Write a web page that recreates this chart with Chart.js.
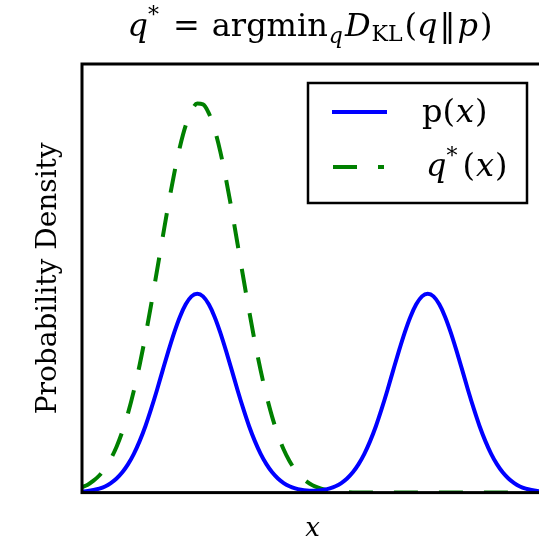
<!DOCTYPE html>
<html>
<head>
<meta charset="utf-8">
<script src="https://cdn.jsdelivr.net/npm/chart.js@4/dist/chart.umd.min.js"></script>
<style>
html, body { margin: 0; padding: 0; overflow: hidden; background: #fff; }
#wrap { width: 539px; height: 541px; overflow: hidden; }
</style>
</head>
<body>
<div id="wrap"><canvas id="myChart" width="625" height="541"></canvas></div>
<script>
// x positions (no ticks are shown on the axis)
var xValues = [-4.0, -3.9, -3.8, -3.7, -3.6, -3.5, -3.4, -3.3, -3.2, -3.1,
    -3.0, -2.9, -2.8, -2.7, -2.6, -2.5, -2.4, -2.3, -2.2, -2.1,
    -2.0, -1.9, -1.8, -1.7, -1.6, -1.5, -1.4, -1.3, -1.2, -1.1,
    -1.0, -0.9, -0.8, -0.7, -0.6, -0.5, -0.4, -0.3, -0.2, -0.1,
    0.0, 0.1, 0.2, 0.3, 0.4, 0.5, 0.6, 0.7, 0.8, 0.9,
    1.0, 1.1, 1.2, 1.3, 1.4, 1.5, 1.6, 1.7, 1.8, 1.9,
    2.0, 2.1, 2.2, 2.3, 2.4, 2.5, 2.6, 2.7, 2.8, 2.9,
    3.0, 3.1, 3.2, 3.3, 3.4, 3.5, 3.6, 3.7, 3.8, 3.9, 4.0];

// p(x): two bumps of equal height
var pValues = [0.005, 0.008, 0.013, 0.020, 0.031, 0.048, 0.071, 0.102, 0.143, 0.195,
    0.259, 0.334, 0.421, 0.515, 0.615, 0.713, 0.805, 0.885, 0.947, 0.987,
    1.000, 0.987, 0.947, 0.885, 0.805, 0.713, 0.615, 0.515, 0.421, 0.334,
    0.259, 0.195, 0.143, 0.102, 0.071, 0.048, 0.032, 0.021, 0.014, 0.010,
    0.009, 0.010, 0.014, 0.021, 0.032, 0.048, 0.071, 0.102, 0.143, 0.195,
    0.259, 0.334, 0.421, 0.515, 0.615, 0.713, 0.805, 0.885, 0.947, 0.987,
    1.000, 0.987, 0.947, 0.885, 0.805, 0.713, 0.615, 0.515, 0.421, 0.334,
    0.259, 0.195, 0.143, 0.102, 0.071, 0.048, 0.031, 0.020, 0.013, 0.008, 0.005];

// q*(x): single bump sitting on the left mode
var qValues = [0.027, 0.040, 0.060, 0.086, 0.122, 0.170, 0.231, 0.307, 0.401, 0.513,
    0.642, 0.787, 0.946, 1.114, 1.284, 1.451, 1.605, 1.740, 1.847, 1.921,
    1.957, 1.953, 1.909, 1.828, 1.715, 1.575, 1.418, 1.250, 1.080, 0.914,
    0.757, 0.615, 0.489, 0.381, 0.291, 0.217, 0.159, 0.114, 0.080, 0.055,
    0.037, 0.025, 0.016, 0.010, 0.006, 0.004, 0.002, 0.001, 0.001, 0,
    0, 0, 0, 0, 0, 0, 0, 0, 0, 0,
    0, 0, 0, 0, 0, 0, 0, 0, 0, 0,
    0, 0, 0, 0, 0, 0, 0, 0, 0, 0, 0];

var seriesNames = ['p(x)', 'q*(x)'];

var SERIF = "'DejaVu Serif', 'Liberation Serif', serif";

function pts(ys) {
    return xValues.map(function (x, i) { return { x: x, y: ys[i] }; });
}

// draws a row of text pieces (roman / italic / sub / sup)
function drawPieces(ctx, pieces, x, y, center) {
    var total = 0;
    pieces.forEach(function (p) {
        ctx.font = (p.i ? 'italic ' : '') + p.s + 'px ' + SERIF;
        p.w = ctx.measureText(p.t).width;
        total += p.w + (p.gap || 0);
    });
    var cx = center ? x - total / 2 : x;
    ctx.fillStyle = '#000';
    ctx.textBaseline = 'alphabetic';
    ctx.textAlign = 'left';
    pieces.forEach(function (p) {
        ctx.font = (p.i ? 'italic ' : '') + p.s + 'px ' + SERIF;
        ctx.fillText(p.t, cx, y + (p.dy || 0));
        cx += p.w + (p.gap || 0);
    });
}

var framePlugin = {
    id: 'frame',
    afterDatasetsDraw: function (chart) {
        var a = chart.chartArea, ctx = chart.ctx;
        ctx.save();
        ctx.strokeStyle = '#000';
        ctx.lineWidth = 3;
        ctx.strokeRect(a.left, a.top, a.right - a.left, a.bottom - a.top);
        ctx.restore();
    }
};

var mathTitle = {
    id: 'mathTitle',
    afterDraw: function (chart) {
        var ctx = chart.ctx;
        ctx.save();
        drawPieces(ctx, [
            { t: 'q', i: 1, s: 32 },
            { t: '*', s: 22, dy: -14, gap: 14 },
            { t: '=', s: 32, gap: 12 },
            { t: 'argmin', s: 32, gap: 1 },
            { t: 'q', i: 1, s: 22, dy: 7, gap: 2 },
            { t: 'D', i: 1, s: 32, gap: 1 },
            { t: 'KL', s: 22, dy: 5, gap: 2 },
            { t: '(', s: 32 },
            { t: 'q', i: 1, s: 32, gap: 2 },
            { t: '\u2016', s: 32, gap: 2 },
            { t: 'p', i: 1, s: 32, gap: 2 },
            { t: ')', s: 32 }
        ], 310, 36, true);
        ctx.restore();
    }
};

var boxLegend = {
    id: 'boxLegend',
    afterDraw: function (chart) {
        var ctx = chart.ctx;
        var ds = chart.data.datasets;
        ctx.save();
        ctx.fillStyle = '#fff';
        ctx.fillRect(308, 83, 219, 120);
        ctx.strokeStyle = '#000';
        ctx.lineWidth = 2.5;
        ctx.strokeRect(308, 83, 219, 120);

        ctx.lineWidth = 4;
        ctx.strokeStyle = ds[0].borderColor;
        ctx.beginPath();
        ctx.moveTo(332, 112);
        ctx.lineTo(387, 112);
        ctx.stroke();

        ctx.strokeStyle = ds[1].borderColor;
        ctx.setLineDash(ds[1].borderDash);
        ctx.beginPath();
        ctx.moveTo(333, 167);
        ctx.lineTo(384, 167);
        ctx.stroke();
        ctx.setLineDash([]);

        drawPieces(ctx, [
            { t: 'p', s: 32 }, { t: '(', s: 32, gap: 1 }, { t: 'x', i: 1, s: 32, gap: 1 }, { t: ')', s: 32 }
        ], 422, 122, false);
        drawPieces(ctx, [
            { t: 'q', i: 1, s: 32 }, { t: '*', s: 22, dy: -13, gap: 5 }, { t: '(', s: 32, gap: 1 },
            { t: 'x', i: 1, s: 32, gap: 1 }, { t: ')', s: 32 }
        ], 426, 176, false);
        ctx.restore();
    }
};

var ctx = document.getElementById('myChart').getContext('2d');
var myChart = new Chart(ctx, {
    type: 'line',
    data: {
        datasets: [{
            label: seriesNames[0],
            data: pts(pValues),
            borderColor: '#0000ff',
            borderWidth: 4,
            pointRadius: 0,
            fill: false,
            cubicInterpolationMode: 'monotone'
        }, {
            label: seriesNames[1],
            data: pts(qValues),
            borderColor: '#008000',
            borderWidth: 4,
            borderDash: [24, 21],
            pointRadius: 0,
            fill: false,
            cubicInterpolationMode: 'monotone'
        }]
    },
    options: {
        responsive: false,
        animation: false,
        layout: {
            padding: { top: 64, left: 32, right: 82, bottom: 0 }
        },
        plugins: {
            legend: { display: false },
            tooltip: { enabled: false },
            title: { display: false }
        },
        scales: {
            x: {
                type: 'linear',
                min: -4,
                max: 4,
                ticks: { display: false },
                grid: { display: false, drawTicks: false },
                border: { display: false },
                title: {
                    display: true,
                    text: 'x',
                    color: '#000',
                    font: { family: SERIF, style: 'italic', size: 26, lineHeight: 0.9 },
                    padding: { top: 25, bottom: 0 }
                }
            },
            y: {
                min: 0,
                max: 2.156,
                ticks: { display: false },
                grid: { display: false, drawTicks: false },
                border: { display: false },
                title: {
                    display: true,
                    text: 'Probability Density',
                    color: '#000',
                    font: { family: SERIF, size: 28, lineHeight: 1.2 },
                    padding: { top: 0, bottom: 16.4 }
                }
            }
        }
    },
    plugins: [framePlugin, mathTitle, boxLegend]
});
</script>
</body>
</html>
